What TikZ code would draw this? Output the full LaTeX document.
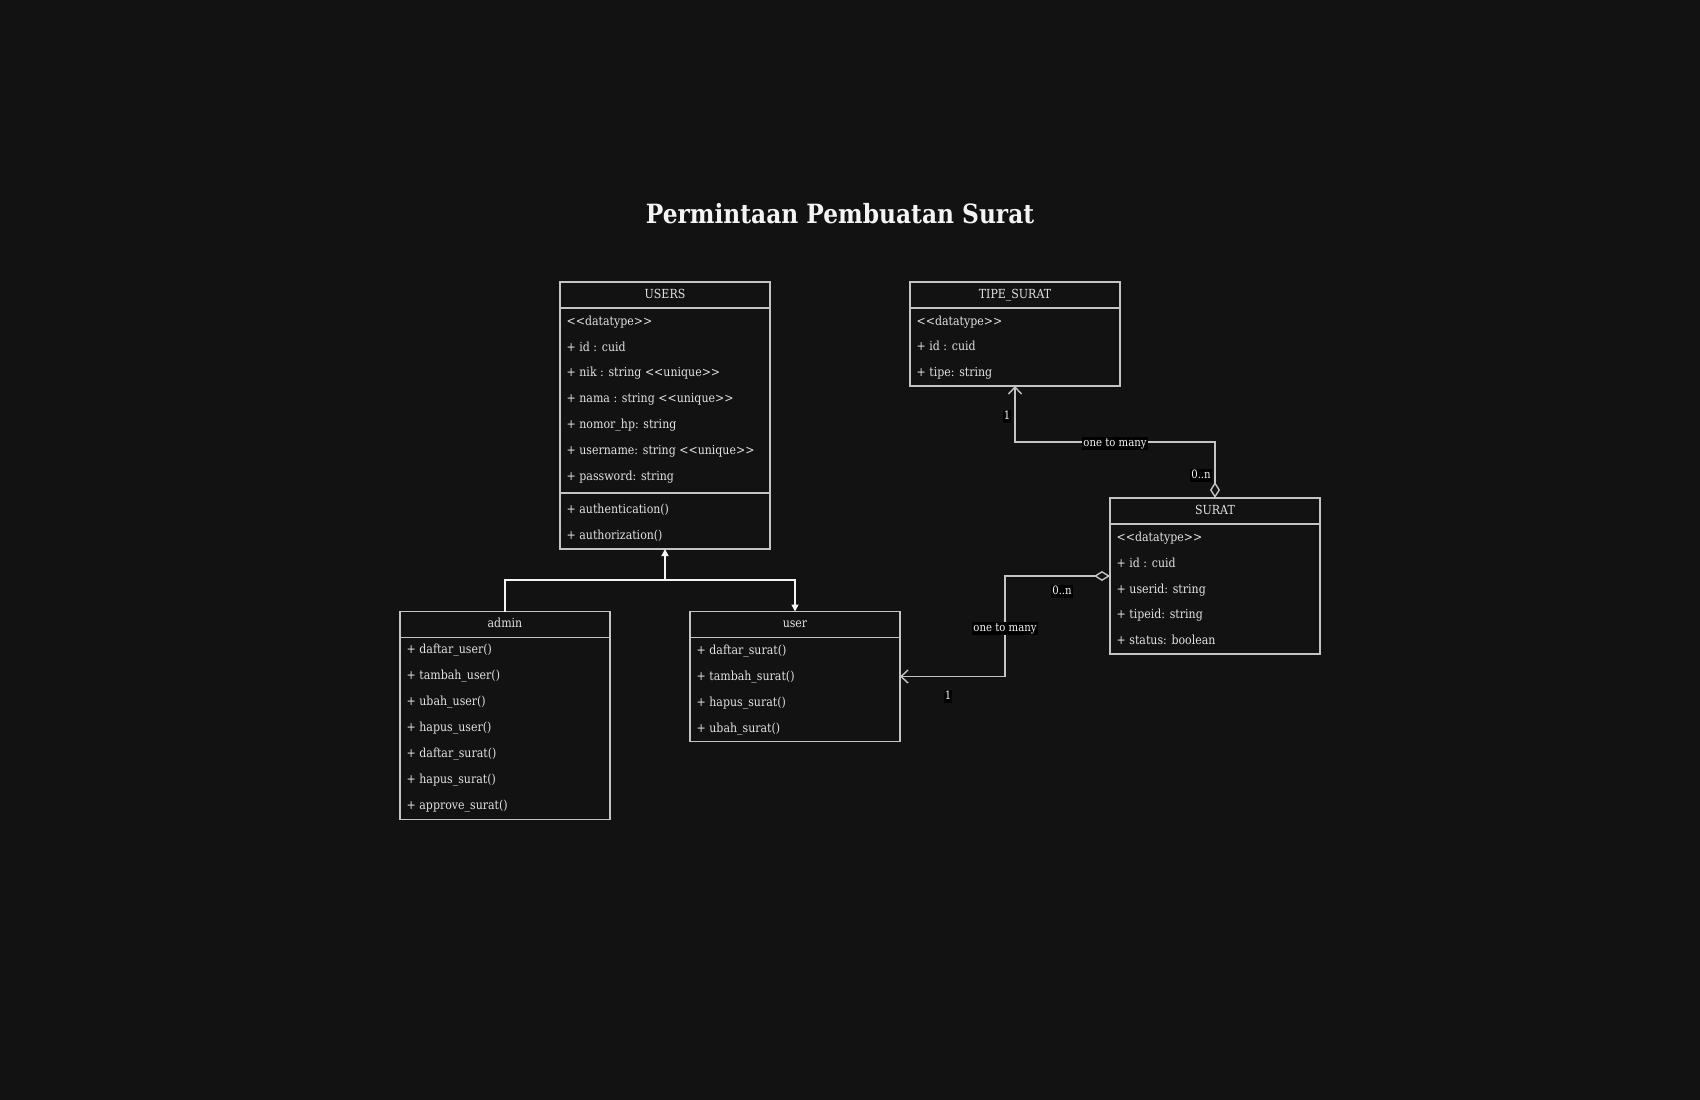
\documentclass[tikz,border=0pt]{standalone}
\usepackage{fontspec}
\setmainfont{DejaVu Serif}[FakeStretch=0.88, Ligatures=TeXOff]
\usetikzlibrary{arrows.meta}
\definecolor{bg}{HTML}{121212}
\definecolor{ln}{HTML}{C4C4C4}
\definecolor{tx}{HTML}{E2E2E2}
\definecolor{wh}{HTML}{F4F4F4}
\begin{document}
\begin{tikzpicture}[x=1pt,y=-1pt,
  box/.style={draw=ln, line width=1.5pt, rectangle, anchor=north west, minimum width=210pt, inner sep=0pt, outer sep=0pt},
  sep/.style={draw=ln, line width=1.5pt},
  row/.style={anchor=west, text=tx, font=\fontsize{12.5}{14}\selectfont, inner sep=0pt, text height=9.5pt, text depth=3pt},
  hdr/.style={text=tx, font=\fontsize{12.5}{14}\selectfont, inner sep=0pt, text height=9.5pt, text depth=3pt},
  inh/.style={draw=wh, line width=1.5pt, -{Triangle[width=7pt,length=7pt]}},
  assoc/.style={draw=ln, line width=1.4pt, {Diamond[length=16pt,width=10pt,fill=bg]}-{Straight Barb[length=7pt,width=13pt]}},
  lbl/.style={fill=black, text=wh, font=\fontsize{11.5}{12}\selectfont, inner sep=1pt, text height=8.5pt, text depth=2.5pt}
]
\fill[bg] (0,0) rectangle (1700,1100);
\useasboundingbox (0,0) rectangle (1700,1100);

\node[text=wh, font=\fontsize{26.5}{30}\selectfont\bfseries] (title) at (840,214) {Permintaan Pembuatan Surat};

% USERS
\node[box, minimum height=267pt] (users) at (560,282) {};
\draw[sep] (560,308) -- (770,308);
\draw[sep] (560,493) -- (770,493);
\node[hdr] (usersh) at (665,295) {USERS};
\foreach \t [count=\i] in {{<<datatype>>},{+ id : cuid},{+ nik : string <<unique>>},{+ nama : string <<unique>>},{+ nomor\_hp: string},{+ username: string <<unique>>},{+ password: string}}
  \node[row] (usersa\i) at (566.5,{322+25.8*(\i-1)}) {\t};
\node[row] (usersm1) at (566.5,510) {+ authentication()};
\node[row] (usersm2) at (566.5,536) {+ authorization()};

% TIPE_SURAT
\node[box, minimum height=104pt] (tipe) at (910,282) {};
\draw[sep] (910,308) -- (1120,308);
\node[hdr] (tipeh) at (1015,295) {TIPE\_SURAT};
\foreach \t [count=\i] in {{<<datatype>>},{+ id : cuid},{+ tipe: string}}
  \node[row] (tipea\i) at (916.5,{322+25.6*(\i-1)}) {\t};

% SURAT
\node[box, minimum height=156pt] (surat) at (1110,498) {};
\draw[sep] (1110,524) -- (1320,524);
\node[hdr] (surath) at (1215,511) {SURAT};
\foreach \t [count=\i] in {{<<datatype>>},{+ id : cuid},{+ userid: string},{+ tipeid: string},{+ status: boolean}}
  \node[row] (surata\i) at (1116.5,{538.3+25.8*(\i-1)}) {\t};

% admin
\node[box, minimum height=208pt] (admin) at (400,611.5) {};
\draw[sep] (400,637.5) -- (610,637.5);
\node[hdr] (adminh) at (505,624.5) {admin};
\foreach \t [count=\i] in {{+ daftar\_user()},{+ tambah\_user()},{+ ubah\_user()},{+ hapus\_user()},{+ daftar\_surat()},{+ hapus\_surat()},{+ approve\_surat()}}
  \node[row] (admina\i) at (406.5,{650.5+26*(\i-1)}) {\t};

% user
\node[box, minimum height=130pt] (user) at (690,611.5) {};
\draw[sep] (690,637.5) -- (900,637.5);
\node[hdr] (userh) at (795,624.5) {user};
\foreach \t [count=\i] in {{+ daftar\_surat()},{+ tambah\_surat()},{+ hapus\_surat()},{+ ubah\_surat()}}
  \node[row] (usera\i) at (696.5,{651+26*(\i-1)}) {\t};

% inheritance
\coordinate (junc) at (users.south |- 0,580);
\draw[inh] (admin.north) |- (junc) -- (users.south);
\draw[inh] (junc) -| (user.north);

% associations
\draw[assoc] (surat.north) -- ++(0,-56) -| (tipe.south);
\node[lbl] (l1) at (1007,416) {1};
\node[lbl] (l2) at (1115,443) {one to many};
\node[lbl] (l3) at (1201,475) {0..n};

\draw[assoc] (surat.west) -- ++(-105,0) |- (user.east);
\node[lbl] (l4) at (1062,591) {0..n};
\node[lbl] (l5) at (1005,628) {one to many};
\node[lbl] (l6) at (948,696) {1};
\end{tikzpicture}
\end{document}
